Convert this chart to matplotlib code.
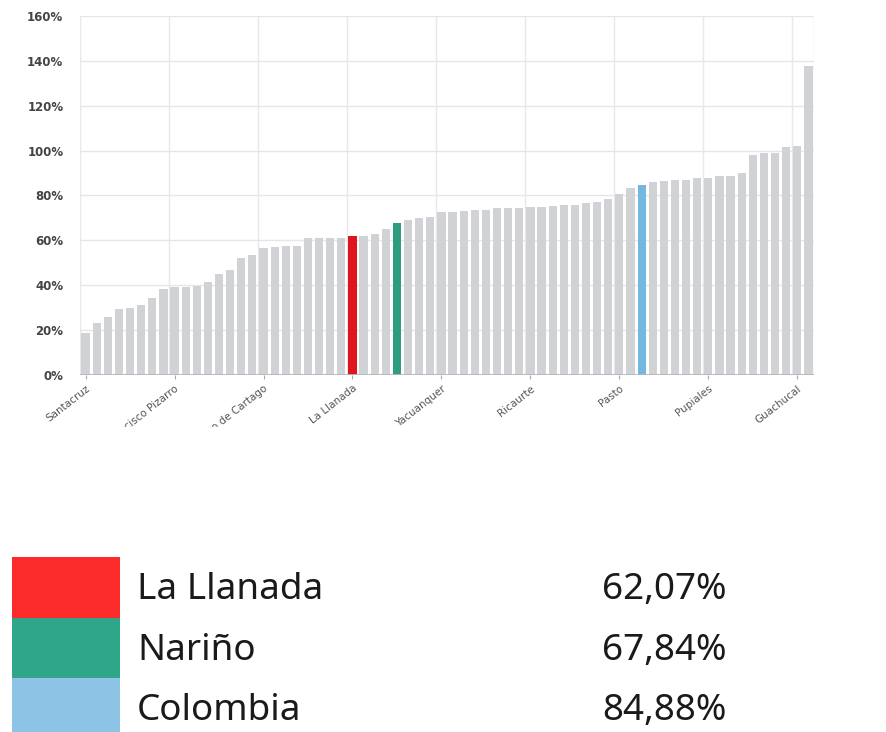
import numpy as np
import matplotlib.pyplot as plt
from matplotlib.patches import Rectangle
from matplotlib.transforms import Bbox, TransformedBbox

# values per municipio (sorted), plus Nariño and Colombia
values = [18.6, 23.3, 26.0, 29.3, 29.7, 31.2, 34.5, 38.2, 39.1, 39.1,
          39.7, 41.6, 45.0, 46.8, 52.3, 53.5, 56.7, 57.2, 57.6, 57.6,
          60.9, 61.0, 61.0, 61.0, 62.07, 62.0, 62.7, 64.9, 67.84, 69.1,
          69.8, 70.5, 72.8, 72.8, 73.1, 73.5, 73.5, 74.3, 74.3, 74.3,
          74.7, 74.7, 75.3, 75.8, 75.8, 76.5, 77.2, 78.3, 80.7, 83.5,
          84.88, 86.2, 86.4, 86.9, 86.9, 87.6, 87.9, 88.7, 88.7, 90.1,
          98.0, 98.8, 98.8, 101.7, 102.0, 137.7]

tick_pos = [0, 8, 16, 24, 32, 40, 48, 56, 64]
tick_labels = ['Santacruz', 'Francisco Pizarro', 'San Pedro de Cartago', 'La Llanada',
               'Yacuanquer', 'Ricaurte', 'Pasto', 'Pupiales', 'Guachucal']

legend_names = ['La Llanada', 'Nariño', 'Colombia']
legend_values = [62.07, 67.84, 84.88]
bar_colors = ['#e0141c', '#2e9c80', '#74b8e2']
swatch_colors = ['#fb2b2b', '#2fa68a', '#8dc4e6']

fig = plt.figure(figsize=(8.86, 7.32), dpi=100)
ax = fig.add_axes([80 / 886, 1 - 375 / 732, 734 / 886, 359 / 732])

colors = ['#d0d2d5'] * len(values)
for v, c in zip(legend_values, bar_colors):
    colors[values.index(v)] = c

x = np.arange(len(values))
ax.bar(x, values, width=0.74, color=colors, zorder=2)

ax.set_xlim(-0.5, len(values) - 0.5)
ax.set_ylim(0, 160)
ax.set_yticks(range(0, 161, 20))
ax.set_yticklabels([f'{v}%' for v in range(0, 161, 20)])
ax.set_xticks(tick_pos)
ax.set_xticklabels(tick_labels, rotation=38, ha='right', rotation_mode='anchor')
ax.tick_params(axis='y', length=0, pad=12, labelsize=8.5, labelcolor='#444444')
ax.tick_params(axis='x', length=3, color='#aaaaaa', pad=3, labelsize=7.5, labelcolor='#555555')
for lbl in ax.get_yticklabels():
    lbl.set_fontweight('bold')

# vertical gridlines between bars at the labelled positions
for p in tick_pos:
    ax.axvline(p - 0.5, color='#e8e8e8', lw=1, zorder=0)
ax.axvline(len(values) - 0.5, color='#e8e8e8', lw=1, zorder=0)
ax.yaxis.grid(True, color='#e6e6e6', lw=1, zorder=0)
ax.set_axisbelow(True)
for s in ax.spines.values():
    s.set_visible(False)
ax.axhline(0, color='#b5b7ba', lw=2, zorder=3)

# labels are cut at the bottom of the chart area
clip = TransformedBbox(Bbox([[0, 1 - 427 / 732], [1, 1]]), fig.transFigure)
for lbl in ax.get_xticklabels():
    lbl.set_clip_box(clip)
    lbl.set_clip_on(True)

# legend table below
row_top = [557, 618, 678]
row_h = [61, 60, 54]
for i, (name, val) in enumerate(zip(legend_names, legend_values)):
    y0 = 1 - (row_top[i] + row_h[i]) / 732
    fig.add_artist(Rectangle((12 / 886, y0), 108 / 886, row_h[i] / 732,
                             transform=fig.transFigure, color=swatch_colors[i], lw=0))
    yc = 1 - (row_top[i] + 33) / 732
    fig.text(137 / 886, yc, name, fontsize=26.5, family='Noto Sans', color='#1a1a1a', va='center')
    fig.text(727 / 886, yc, f'{val:.2f}%'.replace('.', ','), fontsize=26.5,
             family='Noto Sans', color='#1a1a1a', va='center', ha='right')

fig.savefig('out.png', dpi=100)
